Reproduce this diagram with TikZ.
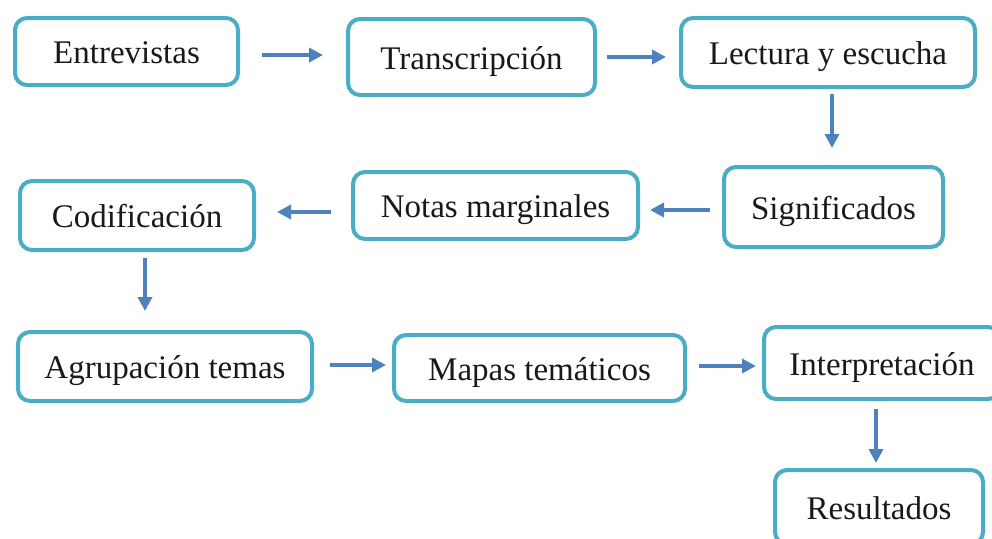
\documentclass[tikz,border=0pt]{standalone}
\usepackage{fontspec}
\setmainfont{Liberation Serif}
\usetikzlibrary{arrows.meta,calc}
\definecolor{boxline}{RGB}{75,172,198}
\definecolor{arrowblue}{RGB}{79,129,189}
\begin{document}
\begin{tikzpicture}[x=1pt,y=-1pt,
  stepbox/.style={draw=boxline,line width=4pt,rounded corners=12pt,fill=white,
    inner sep=0pt,text height=27pt,text depth=3pt,
    font=\fontsize{33}{38}\selectfont,text=black!90},
  arr/.style={draw=arrowblue,line width=4.5pt,-{Triangle[length=14pt,width=14pt]}}]
\useasboundingbox (0,0) rectangle (992,538);
\clip (0,0) rectangle (992,538);
\fill[white] (0,0) rectangle (992,538);
\node[stepbox,minimum width=223pt,minimum height=67pt] (e) at (126.5,51.5) {Entrevistas};
\node[stepbox,minimum width=247pt,minimum height=76pt] (t) at (471.5,57) {Transcripción};
\node[stepbox,minimum width=294pt,minimum height=69pt] (l) at (828,52.5) {Lectura y escucha};
\node[stepbox,minimum width=219pt,minimum height=80pt] (s) at (833.5,207) {Significados};
\node[stepbox,minimum width=285pt,minimum height=67pt] (n) at (495.5,205.5) {Notas marginales};
\node[stepbox,minimum width=234pt,minimum height=69pt] (c) at (137,215.5) {Codificación};
\node[stepbox,minimum width=294pt,minimum height=69pt] (a) at (165,366.5) {Agrupación temas};
\node[stepbox,minimum width=291pt,minimum height=66pt] (m) at (539.5,368) {Mapas temáticos};
\node[stepbox,minimum width=236pt,minimum height=72pt] (i) at (882,363) {Interpretación};
\node[stepbox,minimum width=208pt,minimum height=74pt] (r) at (879,507) {Resultados};
\draw[arr] ($(e.east)+(21.5,3.5)$) -- ($(t.west)+(-23,-2)$);
\draw[arr] ($(t.east)+(10,0)$) -- ($(l.west)+(-13,4.5)$);
\draw[arr] ($(l.south)+(4,5)$) -- ($(s.north)+(-1.5,-17)$);
\draw[arr] ($(s.west)+(-12,3)$) -- ($(n.east)+(10,4.5)$);
\draw[arr] ($(n.west)+(-20,6.5)$) -- ($(c.east)+(21,-3.5)$);
\draw[arr] ($(c.south)+(8,6)$) -- ($(a.north)+(-20,-19)$);
\draw[arr] ($(a.east)+(16,-1.5)$) -- ($(m.west)+(-6,-3)$);
\draw[arr] ($(m.east)+(12,-2)$) -- ($(i.west)+(-6,3)$);
\draw[arr] ($(i.south)+(-6,8)$) -- ($(r.north)+(-3,-5)$);
\end{tikzpicture}
\end{document}
